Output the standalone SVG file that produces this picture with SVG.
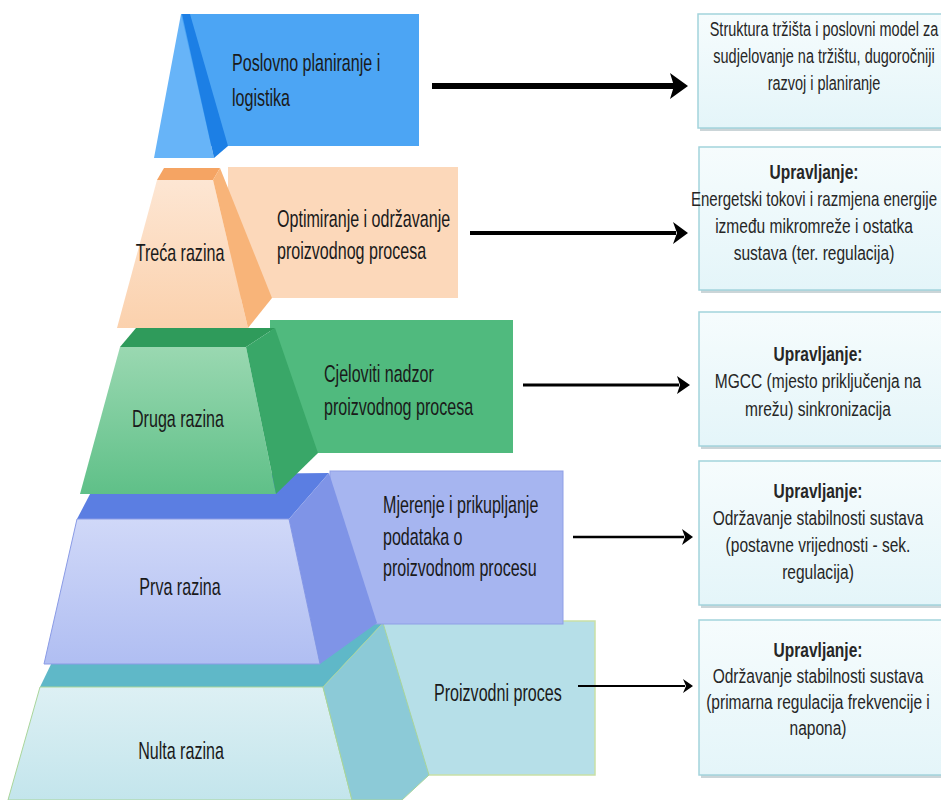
<svg xmlns="http://www.w3.org/2000/svg" width="941" height="800" viewBox="0 0 941 800">
<defs>
  <linearGradient id="gBox" x1="0" y1="0" x2="0" y2="1">
    <stop offset="0" stop-color="#f6fcfd"/>
    <stop offset="1" stop-color="#e4f5f9"/>
  </linearGradient>
  <linearGradient id="gOr" x1="0" y1="0" x2="0" y2="1">
    <stop offset="0" stop-color="#fde6d3"/>
    <stop offset="1" stop-color="#fbd1ad"/>
  </linearGradient>
  <linearGradient id="gGr" x1="0" y1="0" x2="0" y2="1">
    <stop offset="0" stop-color="#9ad8b1"/>
    <stop offset="1" stop-color="#5fc088"/>
  </linearGradient>
  <linearGradient id="gPu" x1="0" y1="0" x2="0" y2="1">
    <stop offset="0" stop-color="#d0d8f8"/>
    <stop offset="1" stop-color="#b0bef2"/>
  </linearGradient>
  <linearGradient id="gTe" x1="0" y1="0" x2="0" y2="1">
    <stop offset="0" stop-color="#ddf0f4"/>
    <stop offset="1" stop-color="#c3e5ec"/>
  </linearGradient>
</defs>
<style>
  .lbl{font-family:"Liberation Sans",Arial,sans-serif;font-size:24px;fill:#1a1a1a}
  .mid{text-anchor:middle}
  .rt{font-family:"Liberation Sans",Arial,sans-serif;font-size:21px;fill:#262626;text-anchor:middle}
  .b{font-weight:bold}
  .rbox{fill:url(#gBox);stroke:#a3d3dc;stroke-width:1.5}
  .shadow{fill:#cbd5d8}
  .conn line{stroke:#000}
  .conn polygon{fill:#000}
</style>
<rect x="0" y="0" width="941" height="800" fill="#ffffff"/>

<!-- Level 0: Nulta razina -->
<g id="level0">
  <rect x="383" y="621" width="212" height="154" fill="#b6dfe8" stroke="#c9e0a6" stroke-width="1.5"/>
  <polygon points="40,687 70,625 383,623 323,687" fill="#5fb8c8"/>
  <polygon points="40,687 323,687 352,800 8,800" fill="url(#gTe)" stroke="#a9d59a" stroke-width="1"/>
  <polygon points="323,687 383,623 429,775 402,800 352,800" fill="#8ccad7" stroke="#a9d59a" stroke-width="1"/>
  <g transform="translate(434 0) scale(0.67 1)"><text class="lbl" x="0" y="701">Proizvodni proces</text></g>
  <g transform="translate(181 0) scale(0.67 1)"><text class="lbl mid" x="0" y="759">Nulta razina</text></g>
</g>

<!-- Level 1: Prva razina -->
<g id="level1">
  <rect x="330" y="471" width="233" height="153" fill="#a6b5f0" stroke="#8f9fe6" stroke-width="1"/>
  <polygon points="77,519 100,475 329,473 289,519" fill="#5b7ee2"/>
  <polygon points="77,519 289,519 320,664 44,664" fill="url(#gPu)" stroke="#8a9be6" stroke-width="1"/>
  <polygon points="289,519 329,473 377,623 320,664" fill="#7f94e7"/>
  <g transform="translate(383 0) scale(0.67 1)">
    <text class="lbl" x="0" y="513">Mjerenje i prikupljanje</text>
    <text class="lbl" x="0" y="545">podataka o</text>
    <text class="lbl" x="0" y="576">proizvodnom procesu</text>
  </g>
  <g transform="translate(180 0) scale(0.67 1)"><text class="lbl mid" x="0" y="595">Prva razina</text></g>
</g>

<!-- Level 2: Druga razina -->
<g id="level2">
  <rect x="270" y="320" width="243" height="133" fill="#50ba7e"/>
  <polygon points="120,347 136,328 275,328 246,347" fill="#2f9b5b"/>
  <polygon points="120,347 246,347 276,494 80,494" fill="url(#gGr)"/>
  <polygon points="246,347 275,328 318,453 276,494" fill="#39a768"/>
  <g transform="translate(324 0) scale(0.67 1)">
    <text class="lbl" x="0" y="382">Cjeloviti nadzor</text>
    <text class="lbl" x="0" y="415">proizvodnog procesa</text>
  </g>
  <g transform="translate(178 0) scale(0.67 1)"><text class="lbl mid" x="0" y="427">Druga razina</text></g>
</g>

<!-- Level 3: Treća razina -->
<g id="level3">
  <rect x="228" y="167" width="230" height="131" fill="#fcd8ba"/>
  <polygon points="157,180 164,168 220,168 213,180" fill="#f5a463"/>
  <polygon points="157,180 213,180 248,328 117,328" fill="url(#gOr)"/>
  <polygon points="213,180 220,168 272,298 248,328" fill="#f8b479"/>
  <g transform="translate(277 0) scale(0.67 1)">
    <text class="lbl" x="0" y="227">Optimiranje i održavanje</text>
    <text class="lbl" x="0" y="259">proizvodnog procesa</text>
  </g>
  <g transform="translate(180 0) scale(0.67 1)"><text class="lbl mid" x="0" y="261">Treća razina</text></g>
</g>

<!-- Level 4: Poslovno planiranje -->
<g id="level4">
  <rect x="181" y="14" width="238" height="132" fill="#4ca5f4"/>
  <polygon points="181,14 154,158 214,158" fill="#67b4f8"/>
  <polygon points="182,14 214,158 228,146 190,14" fill="#1c7fe5"/>
  <g transform="translate(232 0) scale(0.67 1)">
    <text class="lbl" x="0" y="71">Poslovno planiranje i</text>
    <text class="lbl" x="0" y="106">logistika</text>
  </g>
</g>

<!-- Connectors -->
<g id="connectors" class="conn">
  <line x1="432" y1="86" x2="674" y2="86" stroke-width="6"/>
  <polygon points="670,73 688,86 670,99 674,86"/>
  <line x1="470" y1="233" x2="676" y2="233" stroke-width="4"/>
  <polygon points="673,222 688,233 673,244 677,233"/>
  <line x1="523" y1="385" x2="679" y2="385" stroke-width="3"/>
  <polygon points="677,376 690,385 677,394 680,385"/>
  <line x1="573" y1="537" x2="684" y2="537" stroke-width="2.5"/>
  <polygon points="682,529 693,537 682,545 685,537"/>
  <line x1="578" y1="686" x2="685" y2="686" stroke-width="2"/>
  <polygon points="683,679 693,686 683,693 686,686"/>
</g>

<!-- Right boxes -->
<g id="box1">
  <rect class="shadow" x="700" y="17" width="260" height="114"/>
  <rect class="rbox" x="698" y="14" width="260" height="114"/>
  <g transform="translate(824 0) scale(0.69 1)">
    <text class="rt" x="0" y="36">Struktura tržišta i poslovni model za</text>
    <text class="rt" x="0" y="63">sudjelovanje na tržištu, dugoročniji</text>
    <text class="rt" x="0" y="90">razvoj i planiranje</text>
  </g>
</g>
<g id="box2">
  <rect class="shadow" x="701" y="150" width="260" height="143"/>
  <rect class="rbox" x="699" y="147" width="260" height="143"/>
  <g transform="translate(814 0) scale(0.74 1)">
    <text class="rt b" x="0" y="179">Upravljanje:</text>
    <text class="rt" x="0" y="206" transform="scale(0.97 1)">Energetski tokovi i razmjena energije</text>
    <text class="rt" x="0" y="233">između mikromreže i ostatka</text>
    <text class="rt" x="0" y="260">sustava (ter. regulacija)</text>
  </g>
</g>
<g id="box3">
  <rect class="shadow" x="701" y="315" width="260" height="134"/>
  <rect class="rbox" x="699" y="312" width="260" height="134"/>
  <g transform="translate(818 0) scale(0.74 1)">
    <text class="rt b" x="0" y="361">Upravljanje:</text>
    <text class="rt" x="0" y="388">MGCC (mjesto priključenja na</text>
    <text class="rt" x="0" y="416">mrežu) sinkronizacija</text>
  </g>
</g>
<g id="box4">
  <rect class="shadow" x="701" y="464" width="260" height="144"/>
  <rect class="rbox" x="699" y="461" width="260" height="144"/>
  <g transform="translate(818 0) scale(0.74 1)">
    <text class="rt b" x="0" y="498">Upravljanje:</text>
    <text class="rt" x="0" y="525">Održavanje stabilnosti sustava</text>
    <text class="rt" x="0" y="552">(postavne vrijednosti - sek.</text>
    <text class="rt" x="0" y="579">regulacija)</text>
  </g>
</g>
<g id="box5">
  <rect class="shadow" x="701" y="623" width="260" height="155"/>
  <rect class="rbox" x="699" y="620" width="260" height="155"/>
  <g transform="translate(818 0) scale(0.74 1)">
    <text class="rt b" x="0" y="657">Upravljanje:</text>
    <text class="rt" x="0" y="683">Održavanje stabilnosti sustava</text>
    <text class="rt" x="0" y="709">(primarna regulacija frekvencije i</text>
    <text class="rt" x="0" y="735">napona)</text>
  </g>
</g>
</svg>
